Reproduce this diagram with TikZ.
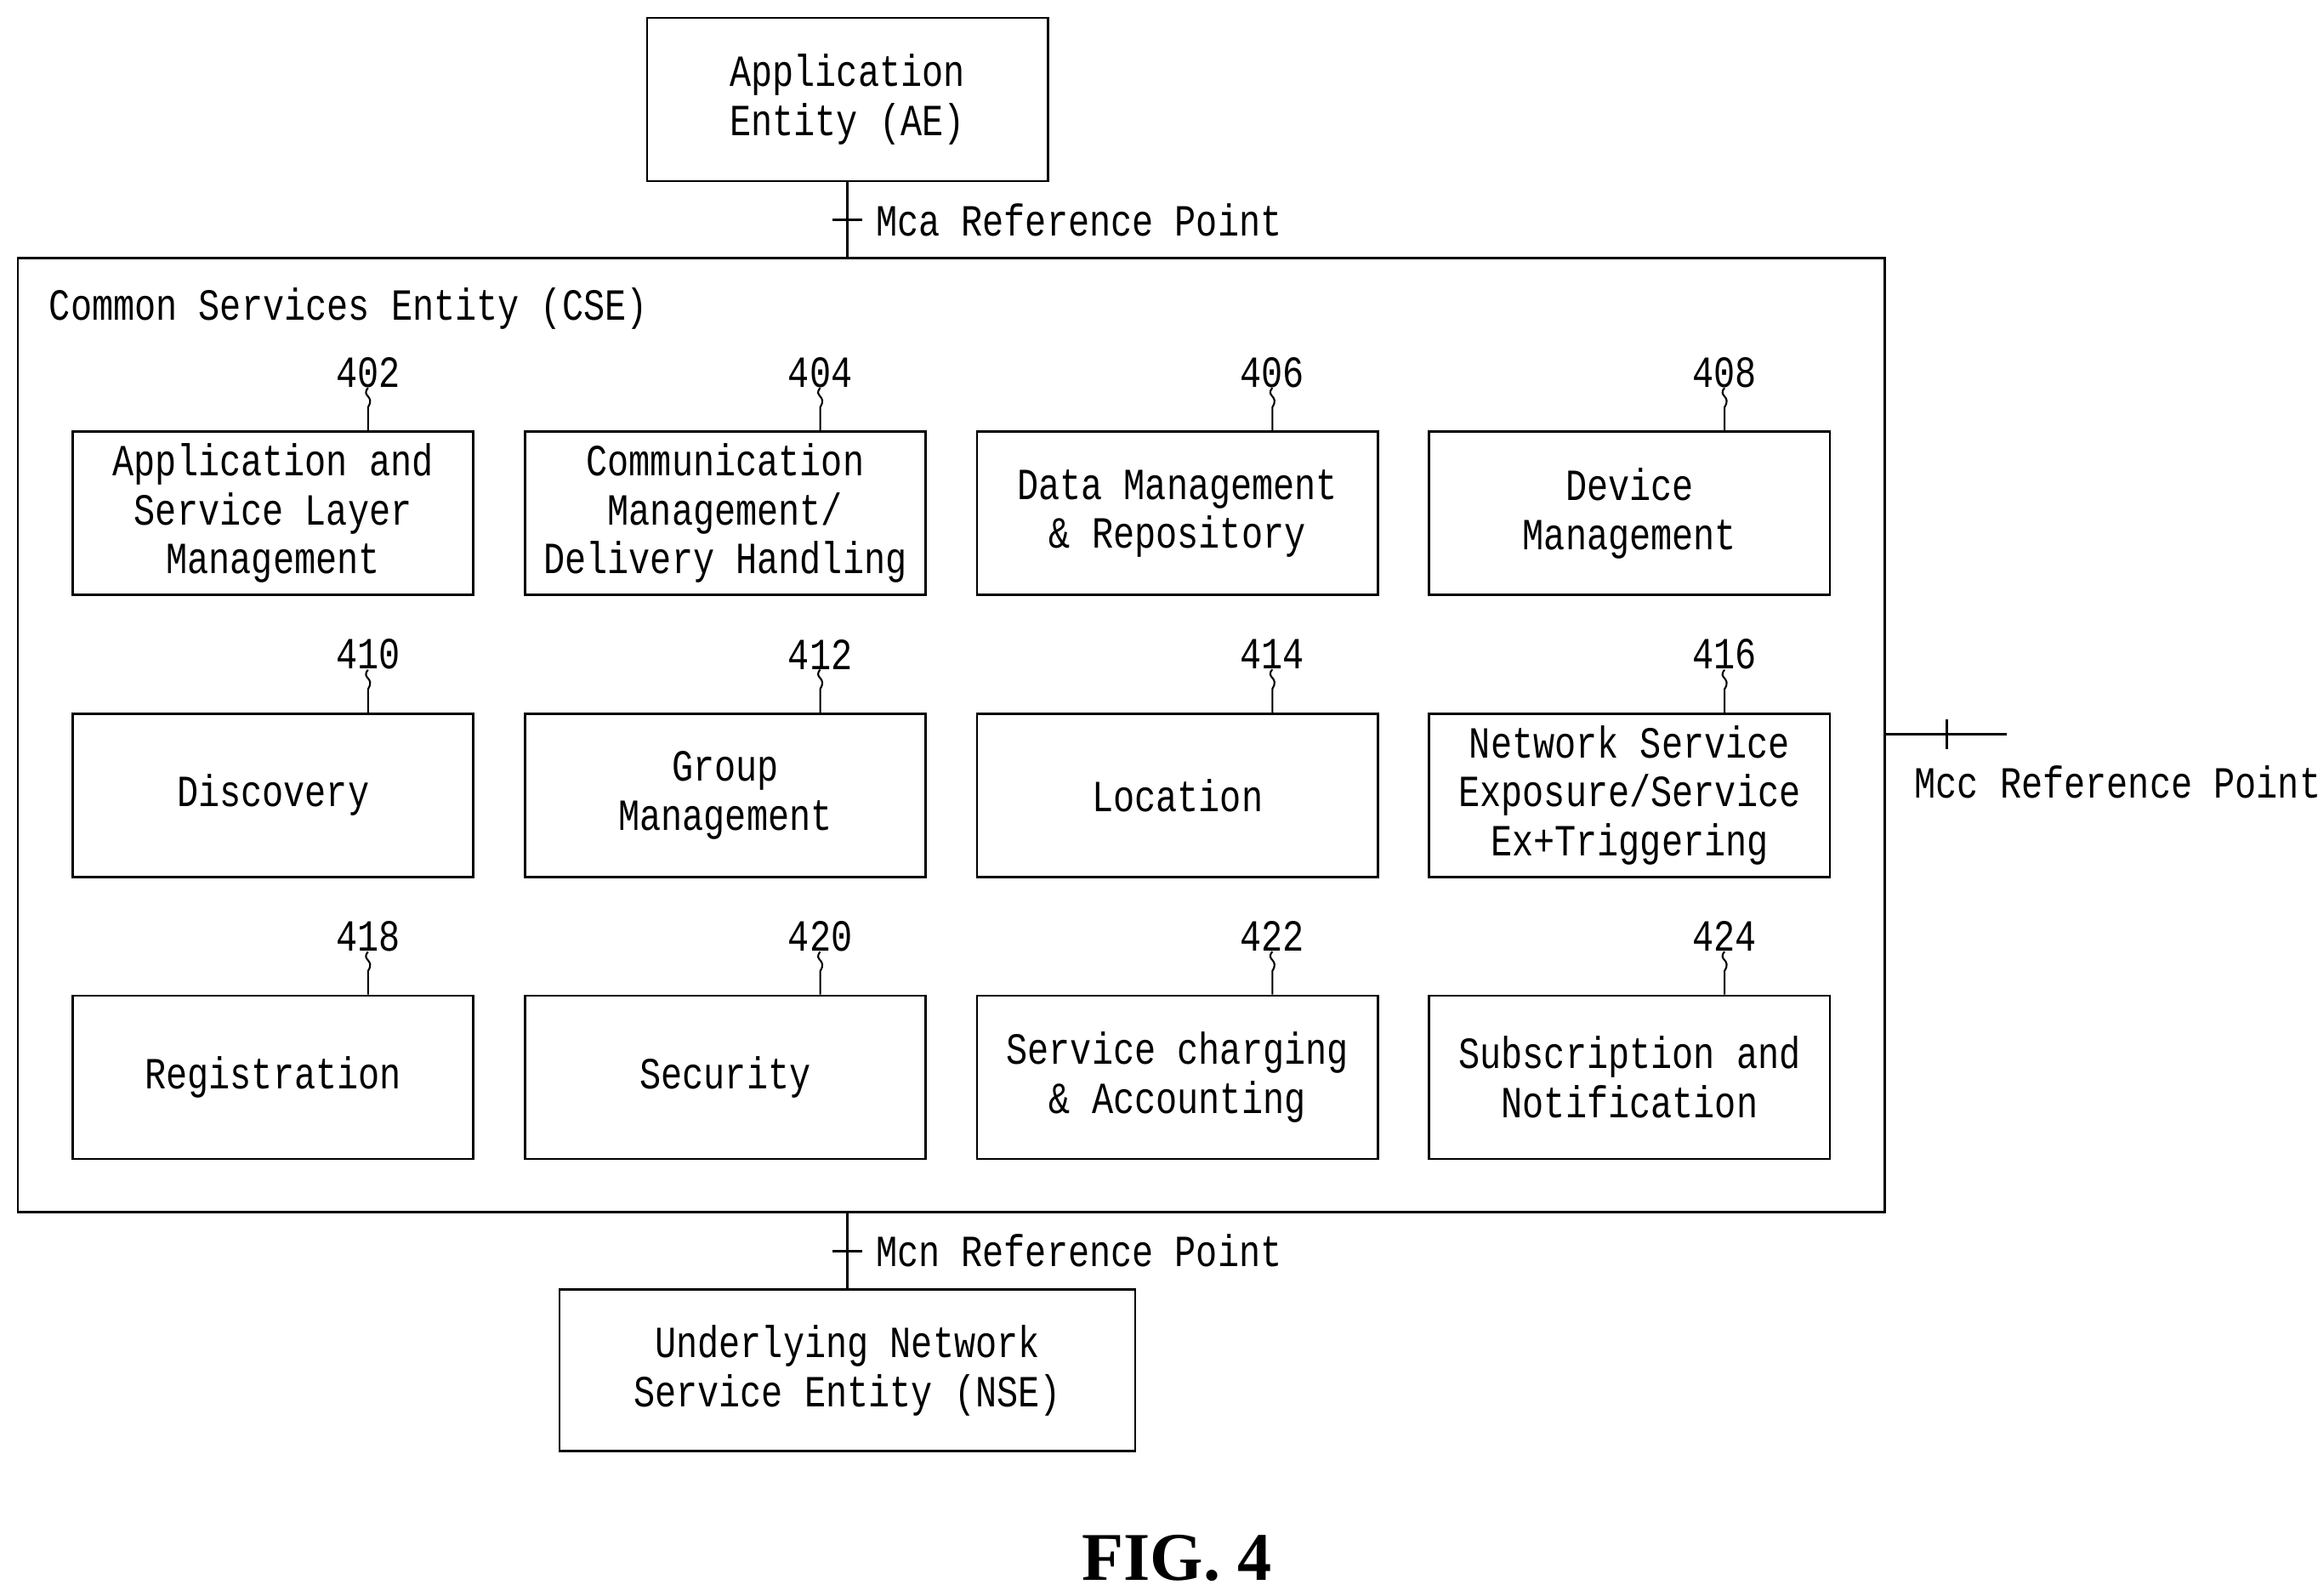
\documentclass[tikz,border=0pt]{standalone}
\usepackage{fontspec}
\setmainfont{Liberation Mono}[FakeStretch=0.8]
\newfontfamily\figfont{Liberation Serif}
\begin{document}
\begin{tikzpicture}[x=1pt,y=-1pt,
  txt/.style={font=\fontsize{30}{33}\selectfont,inner sep=0pt},
  box/.style={draw,line width=1.6pt,minimum width=270pt,minimum height=110pt,align=center,txt},
  ln/.style={line width=1.6pt},
  sq/.style={line width=1.2pt}]
\useasboundingbox (0,0) rectangle (1562,1075);
\node[box] (ae) at (571,67) {Application\\Entity (AE)};
\node[draw,line width=1.6pt,minimum width=1258pt,minimum height=643pt] (cse) at (641,495.5) {};
\node[txt,anchor=west] (csel) at (33,208) {Common Services Entity (CSE)};
\node[box,minimum width=388pt,minimum height=109pt] (nse) at (571,923.5) {Underlying Network\\Service Entity (NSE)};
% Mca
\draw[ln] (ae.south) -- (ae.south |- cse.north);
\coordinate (ta) at (571,148);
\draw[ln] ([xshift=-10pt]ta) -- ([xshift=10pt]ta);
\node[txt,anchor=west] (mca) at (590,148) {Mca Reference Point};
% Mcn
\draw[ln] (cse.south -| nse.north) -- (nse.north);
\coordinate (tn) at (571,843);
\draw[ln] ([xshift=-10pt]tn) -- ([xshift=10pt]tn);
\node[txt,anchor=west] (mcn) at (590,843) {Mcn Reference Point};
% Mcc
\coordinate (mce) at (1352,495);
\draw[ln] (cse.east |- mce) -- (mce);
\coordinate (tc) at (1312,495);
\draw[ln] ([yshift=-10pt]tc) -- ([yshift=10pt]tc);
\node[txt,anchor=west] (mcc) at (1290,527) {Mcc Reference Point};
% grid
\foreach \n/\c/\r/\t in {
 402/0/0/{Application and\\Service Layer\\Management},
 404/1/0/{Communication\\Management/\\Delivery Handling},
 406/2/0/{Data Management\\\& Repository},
 408/3/0/{Device\\Management},
 410/0/1/{Discovery},
 412/1/1/{Group\\Management},
 414/2/1/{Location},
 416/3/1/{Network Service\\Exposure/Service\\Ex+Triggering},
 418/0/2/{Registration},
 420/1/2/{Security},
 422/2/2/{Service charging\\\& Accounting},
 424/3/2/{Subscription and\\Notification}}{
  \pgfmathsetmacro\bx{184+304.7*\c}
  \pgfmathsetmacro\by{346+190*\r}
  \node[box] (b\n) at (\bx,\by) {\t};
  \node[txt] (n\n) at (\bx+64,\by-95) {\n};
  \draw[sq] (n\n.south) .. controls ++(-5,6) and ++(5,-8) .. ++(0,13) -- (b\n.north -| n\n.south);
}
\node[font=\figfont\bfseries\fontsize{46}{50}\selectfont] (fig) at (793,1050) {FIG. 4};
\end{tikzpicture}
\end{document}
